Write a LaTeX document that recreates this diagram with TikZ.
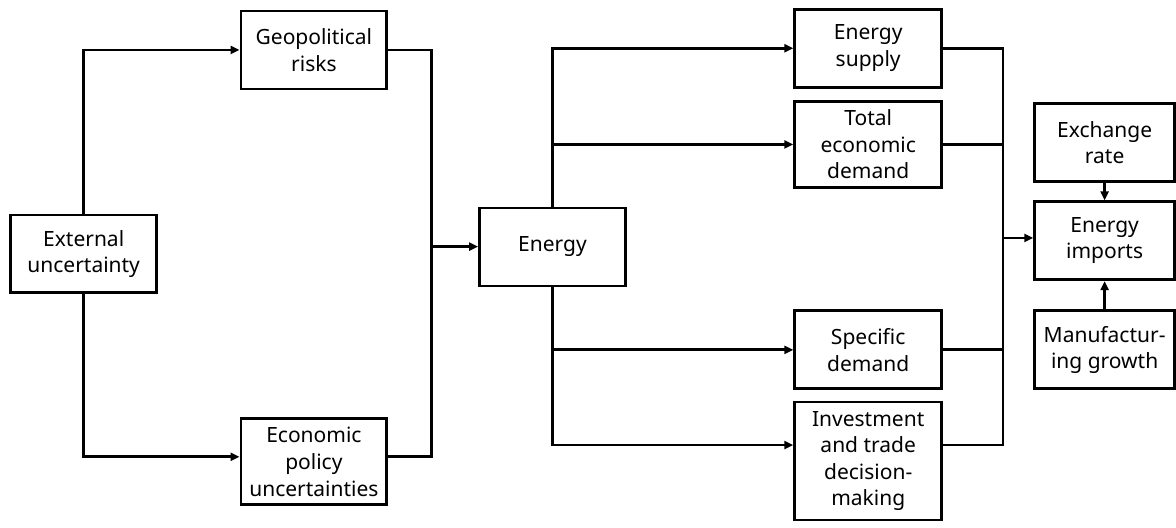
\documentclass[tikz,border=0pt]{standalone}
\usepackage{fontspec}
\setmainfont{Noto Sans}
\usetikzlibrary{arrows.meta}

\begin{document}
\begin{tikzpicture}[x=0.5pt, y=-0.5pt,
    box/.style={draw, line width=1.4pt, align=center, inner sep=0pt,
      font=\fontsize{10.5}{13.3}\selectfont},
    link/.style={line width=1.4pt},
    arr/.style={line width=1.4pt, -{Triangle[length=4.5pt, width=4pt]}}]
    % Canvas 1176 x 528 (pixel units)
    \fill[white] (0,0) rectangle (1176,528);

    % Left column
    \node[box, minimum width=73pt, minimum height=39pt] (ext) at (83.7,254) {External\\uncertainty};
    \node[box, minimum width=73pt, minimum height=39pt] (geo) at (314,50) {Geopolitical\\risks};
    \node[box, minimum width=73pt, minimum height=43pt] (epu) at (314,462) {Economic\\policy\\uncertainties};

    % Middle
    \node[box, minimum width=73pt, minimum height=39pt] (energy) at (552.7,247) {Energy};

    % Channels
    \node[box, minimum width=73.5pt, minimum height=39pt] (sup) at (868.5,48.3) {Energy\\supply};
    \node[box, minimum width=73.5pt, minimum height=43pt] (ted) at (868.5,144.5) {Total\\economic\\demand};
    \node[box, minimum width=73.5pt, minimum height=39pt] (spd) at (868.5,350) {Specific\\demand};
    \node[box, minimum width=73.5pt, minimum height=59pt] (inv) at (868.5,461.2) {Investment\\and trade\\decision-\\making};

    % Right column
    \node[box, minimum width=70pt, minimum height=39pt] (exr) at (1105,142.8) {Exchange\\rate};
    \node[box, minimum width=70pt, minimum height=39pt] (imp) at (1105,240.8) {Energy\\imports};
    \node[box, minimum width=70pt, minimum height=39pt] (mfg) at (1105,350) {Manufactur-\\ing growth};

    % Junction points
    \coordinate (busL) at (431.7,246.7);
    \coordinate (busR) at (1003.3,238);

    % External uncertainty -> its two parts
    \draw[arr] (ext.north) |- (geo.west);
    \draw[arr] (ext.south) |- ([yshift=2.5pt]epu.west);

    % Both parts -> Energy
    \draw[link] (geo.east) -| (busL) |- ([yshift=2.5pt]epu.east);
    \draw[arr] (busL) -- (busL -| energy.west);

    % Energy -> channels
    \draw[arr] (energy.north) |- (sup.west);
    \draw[arr] (energy.north) |- (ted.west);
    \draw[arr] (energy.south) |- (spd.west);
    \draw[arr] (energy.south) |- ([yshift=8pt]inv.west);

    % Channels -> Energy imports
    \draw[link] (sup.east) -| (busR) |- ([yshift=8pt]inv.east);
    \draw[link] (ted.east) -| (busR);
    \draw[link] (spd.east) -| (busR);
    \draw[arr] (busR) -- (busR -| imp.west);

    % Other drivers
    \draw[arr] (exr.south) -- (imp.north);
    \draw[arr] (mfg.north) -- (imp.south);
\end{tikzpicture}
\end{document}
